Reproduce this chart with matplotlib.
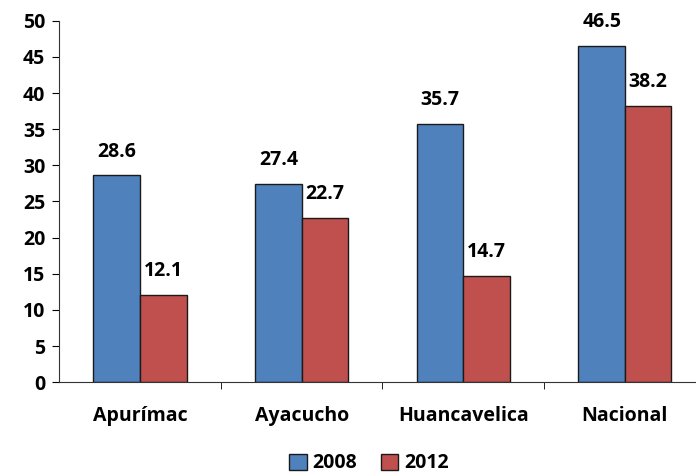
import numpy as np
import matplotlib.pyplot as plt
from matplotlib.ticker import FixedLocator

regiones = ['Apurímac', 'Ayacucho', 'Huancavelica', 'Nacional']
v2008 = [28.6, 27.4, 35.7, 46.5]
v2012 = [12.1, 22.7, 14.7, 38.2]

plt.rcParams['font.family'] = ['Open Sans', 'DejaVu Sans']
plt.rcParams['font.weight'] = 'bold'

fig = plt.figure(figsize=(6.96, 4.73), dpi=100)
# axis runs a bit past the right edge, like the original
ax = fig.add_axes([0.085, 0.192, 0.929, 0.764])

x = np.arange(len(regiones))
w = 0.288
b1 = ax.bar(x - w / 2, v2008, w, color='#4F81BD', edgecolor='#1a1a1a', linewidth=1, label='2008')
b2 = ax.bar(x + w / 2, v2012, w, color='#C0504D', edgecolor='#1a1a1a', linewidth=1, label='2012')

for bars in (b1, b2):
    for r in bars:
        ax.text(r.get_x() + r.get_width() / 2, r.get_height() + 3.3, f'{r.get_height():.1f}',
                ha='center', va='center', fontsize=14, fontweight='bold')

ax.set_xlim(-0.5, len(regiones) - 0.5)
ax.set_ylim(0, 50)
ax.set_yticks(np.arange(0, 51, 5))
ax.set_xticks(x)
ax.set_xticklabels(regiones)
ax.xaxis.set_minor_locator(FixedLocator(np.arange(0.5, len(regiones) - 0.5, 1)))
ax.tick_params(axis='x', which='major', length=0, pad=17, labelsize=14)
ax.tick_params(axis='x', which='minor', length=5, direction='out')
ax.tick_params(axis='y', length=5, direction='out', labelsize=14, pad=5)
for s in ('top', 'right'):
    ax.spines[s].set_visible(False)
for s in ('left', 'bottom'):
    ax.spines[s].set_color('#333333')

fig.legend(handles=[b1, b2], loc='lower center', bbox_to_anchor=(0.53, -0.038), ncol=2, frameon=False,
           fontsize=14, handlelength=0.9, handleheight=0.9, handletextpad=0.3, columnspacing=1.2)

fig.savefig('out.png', dpi=100)
